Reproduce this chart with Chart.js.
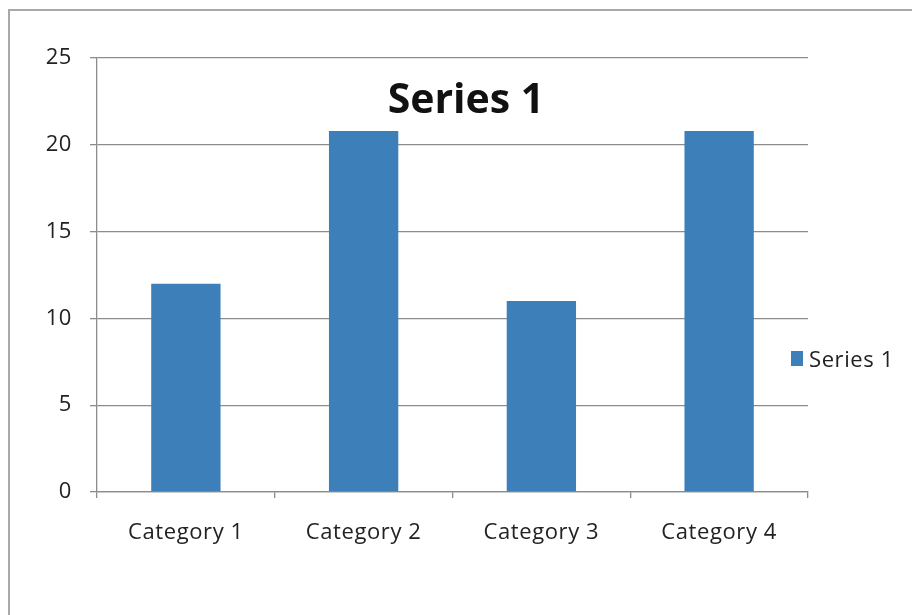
<!DOCTYPE html>
<html>
<head>
<meta charset="utf-8">
<title>Series 1</title>
<script src="https://cdn.jsdelivr.net/npm/chart.js@4.4.1/dist/chart.umd.min.js"></script>
<style>
  html, body { margin: 0; padding: 0; background: #fff; }
  #wrap { position: relative; width: 912px; height: 615px; overflow: hidden; }
  /* thin frame around the chart object, only top/left fall inside the view */
  #frame {
    position: absolute; left: 8px; top: 9px; width: 960px; height: 660px;
    border-top: 2px solid #a9a9a9; border-left: 2px solid #a9a9a9;
    box-sizing: border-box;
  }
  #chart { position: absolute; left: 0; top: 0; }
</style>
</head>
<body>
<div id="wrap">
  <div id="frame"></div>
  <canvas id="chart" width="912" height="615"></canvas>
</div>
<script>
/* ---- data ---- */
const categories = ['Category 1', 'Category 2', 'Category 3', 'Category 4'];
const seriesName = 'Series 1';
const seriesValues = [12, 20.8, 11, 20.8];
const yTicks = [0, 5, 10, 15, 20, 25];

const BAR_COLOR = '#3c7fb9';
const GRID_COLOR = '#8c8c8c';
const FONT = '"Open Sans", "DejaVu Sans", sans-serif';

/**
 * 標題 + 圖例，直接畫在繪圖區內
 */
const overlayPlugin = {
  id: 'overlay',
  beforeDraw(chart) {
    chart.ctx.letterSpacing = '0.6px';
  },
  afterDraw(chart) {
    const ctx = chart.ctx;
    ctx.save();
    ctx.letterSpacing = '0px';

    // title
    ctx.fillStyle = '#111';
    ctx.font = 'bold 41px ' + FONT;
    ctx.textAlign = 'center';
    ctx.textBaseline = 'alphabetic';
    ctx.fillText(seriesName, 466, 113);

    // legend
    ctx.fillStyle = BAR_COLOR;
    ctx.fillRect(791, 351, 12, 15);
    ctx.fillStyle = '#222';
    ctx.font = '22px ' + FONT;
    ctx.textAlign = 'left';
    ctx.letterSpacing = '0.6px';
    ctx.fillText(seriesName, 809, 367);
    ctx.restore();
  }
};

new Chart(document.getElementById('chart'), {
  type: 'bar',
  data: {
    labels: categories,
    datasets: [{
      label: seriesName,
      data: seriesValues,
      backgroundColor: BAR_COLOR,
      borderWidth: 0,
      categoryPercentage: 1,
      barPercentage: 0.39
    }]
  },
  options: {
    responsive: false,
    animation: false,
    layout: {
      padding: { left: 0, top: 58, right: 104, bottom: 53 }
    },
    plugins: {
      legend: { display: false },
      title: { display: false },
      tooltip: { enabled: false }
    },
    scales: {
      x: {
        afterFit: (scale) => { scale.height = 70; },
        grid: {
          offset: true,
          drawOnChartArea: false,
          drawTicks: true,
          tickLength: 6,
          color: GRID_COLOR,
          lineWidth: 1.3
        },
        border: { color: GRID_COLOR, width: 1.3 },
        ticks: {
          color: '#222',
          padding: 22,
          font: { family: FONT, size: 22 }
        }
      },
      y: {
        min: 0,
        max: 25,
        afterFit: (scale) => { scale.width = 97; },
        afterBuildTicks: (scale) => {
          scale.ticks = yTicks.map(v => ({ value: v }));
        },
        grid: {
          color: GRID_COLOR,
          lineWidth: 1.3,
          drawTicks: true,
          tickLength: 7
        },
        border: { color: GRID_COLOR, width: 1.3 },
        ticks: {
          color: '#222',
          padding: 18,
          font: { family: FONT, size: 22 }
        }
      }
    }
  },
  plugins: [overlayPlugin]
});
</script>
</body>
</html>
